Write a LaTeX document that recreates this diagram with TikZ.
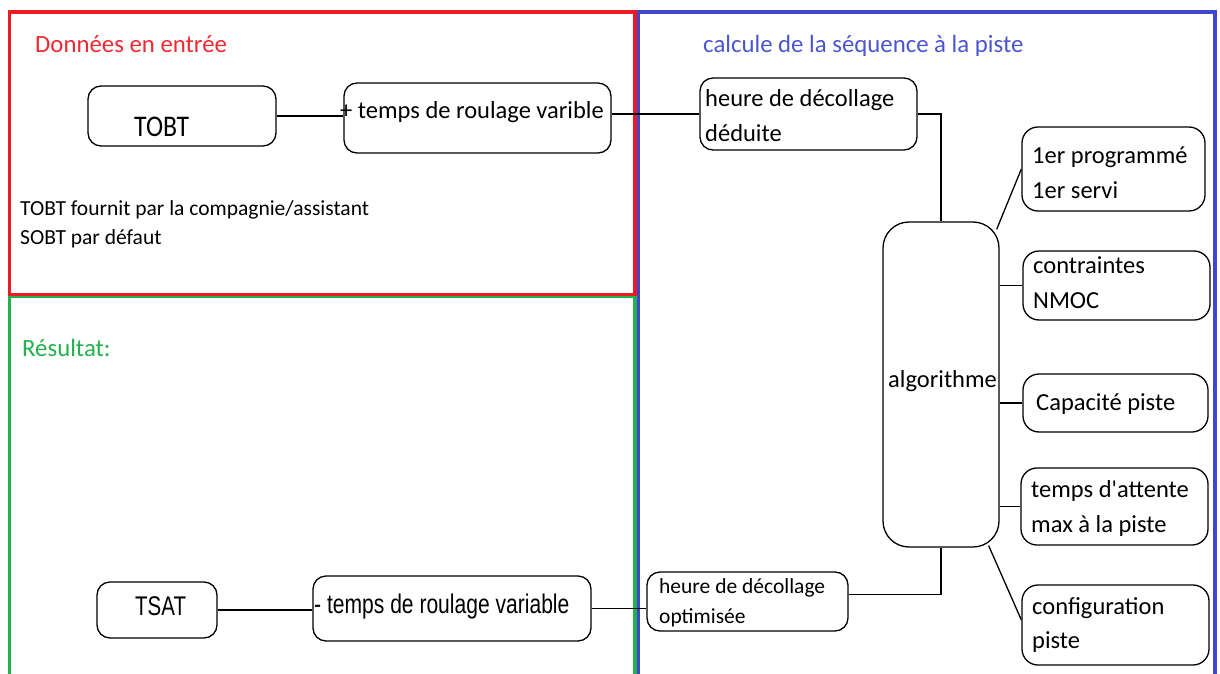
\documentclass[tikz,border=0pt]{standalone}
\usepackage{fontspec}
\setmainfont{Carlito}
\newfontfamily\arialf{Liberation Sans}
\usetikzlibrary{calc}
\definecolor{pred}{RGB}{237,28,36}
\definecolor{pblue}{RGB}{63,72,204}
\definecolor{pgreen}{RGB}{34,177,76}
\definecolor{tred}{RGB}{240,40,50}
\definecolor{tblue}{RGB}{75,85,210}
\newcommand\twolines[3]{\vtop{\baselineskip=#1pt\hbox{#2}\hbox{#3}}}
\begin{document}
\begin{tikzpicture}[x=1pt,y=-1pt,
  box/.style={draw,line width=1.3pt,rounded corners=13pt,inner sep=0pt},
  conn/.style={draw,line width=1.3pt},
  txt/.style={anchor=base west,inner sep=0pt,font=\fontsize{24.5}{34}\selectfont},
  small/.style={anchor=base west,inner sep=0pt,font=\fontsize{21.5}{29}\selectfont},
  arialtxt/.style={anchor=base west,inner sep=0pt,font=\arialf\fontsize{27}{30}\selectfont},
  title/.style={anchor=base west,inner sep=0pt,font=\fontsize{24.8}{30}\selectfont},
  frame/.style={line width=3.5pt}]
\useasboundingbox (0,0) rectangle (1220,674);
\begin{scope}
\clip (0,0) rectangle (1220,674);
\draw[frame,pblue] (638,12) rectangle (1215,700);
\draw[frame,pgreen] (9.5,296.5) rectangle (635,700);
\draw[frame,pred] (9.5,12) rectangle (635,294.5);
\end{scope}

% titles
\node[title,text=tred] (t1) at (35,53) {Données en entrée};
\node[title,text=tblue] (t2) at (703,53) {calcule de la séquence à la piste};
\node[title,text=pgreen] (t3) at (22,356) {Résultat:};
\node[small] (note) at (20,215) {\twolines{29}{TOBT fournit par la compagnie/assistant}{SOBT par défaut}};

% boxes
\node[box,minimum width=188pt,minimum height=60pt] (tobt) at (182,116) {};
\node[box,minimum width=267pt,minimum height=70pt] (plus) at (477.5,118) {};
\node[box,minimum width=217pt,minimum height=72pt] (deduite) at (808.5,114) {};
\node[box,rounded corners=26pt,minimum width=116pt,minimum height=325pt] (algo) at (941,384.5) {};
\node[box,rounded corners=16pt,minimum width=183pt,minimum height=84pt] (b1) at (1113.5,169) {};
\node[box,rounded corners=16pt,minimum width=187pt,minimum height=69pt] (b2) at (1116.5,285.5) {};
\node[box,rounded corners=16pt,minimum width=185pt,minimum height=58pt] (b3) at (1115.5,403) {};
\node[box,rounded corners=16pt,minimum width=187pt,minimum height=77pt] (b4) at (1114.5,506.5) {};
\node[box,rounded corners=16pt,minimum width=187pt,minimum height=80pt] (b5) at (1115.5,625) {};
\node[box,minimum width=120pt,minimum height=56pt] (tsat) at (157,610) {};
\node[box,minimum width=278pt,minimum height=65pt] (minus) at (452,608.5) {};
\node[box,minimum width=201pt,minimum height=59pt] (optim) at (747.5,601.5) {};

% texts in boxes
\node[anchor=base west,inner sep=0pt,font=\fontsize{30}{30}\selectfont] (ttobt) at (134,136) {\scalebox{0.86}[1]{TOBT}};
\node[txt] (tplus) at (340,118) {+ temps de roulage varible};
\node[txt] (tded) at (705,107) {\twolines{34}{heure de décollage}{déduite}};
\node[txt] (talgo) at (888,387) {algorithme};
\node[txt] (tb1) at (1032,163) {\twolines{35}{1er programmé}{1er servi}};
\node[txt] (tb2) at (1033,273) {\twolines{35}{contraintes}{NMOC}};
\node[txt] (tb3) at (1036,410) {Capacité piste};
\node[txt] (tb4) at (1031,497) {\twolines{35}{temps d\textquotesingle attente}{max à la piste}};
\node[txt] (tb5) at (1032,614) {\twolines{34}{configuration}{piste}};
\node[arialtxt] (ttsat) at (135,615) {\scalebox{0.76}[1]{TSAT}};
\node[arialtxt] (tminus) at (314,613.5) {\scalebox{0.78}[1]{- temps de roulage variable}};
\node[small] (topt) at (659,593) {\twolines{30}{heure de décollage}{optimisée}};

% connectors
\draw[conn] (tobt.east) -- (tobt.east -| plus.west);
\draw[conn] ($(plus.east)+(0,-4)$) -- (deduite.west |- {$(plus.east)+(0,-4)$});
\draw[conn] (deduite.east) -| (algo.north);
\draw[conn] (algo.south) |- ($(optim.east)+(0,-7)$);
\draw[conn] (minus.east) -- (minus.east -| optim.west);
\draw[conn] (tsat.east) -- (tsat.east -| minus.west);
\draw[conn] ($(algo.north east)+(-3,8)$) -- (b1.west);
\draw[conn] (b2.west -| algo.east) -- (b2.west);
\draw[conn] (b3.west -| algo.east) -- (b3.west);
\draw[conn] (b4.west -| algo.east) -- (b4.west);
\draw[conn] ($(algo.south east)+(-11,-2)$) -- ($(b5.west)+(0,-5)$);
\end{tikzpicture}
\end{document}
